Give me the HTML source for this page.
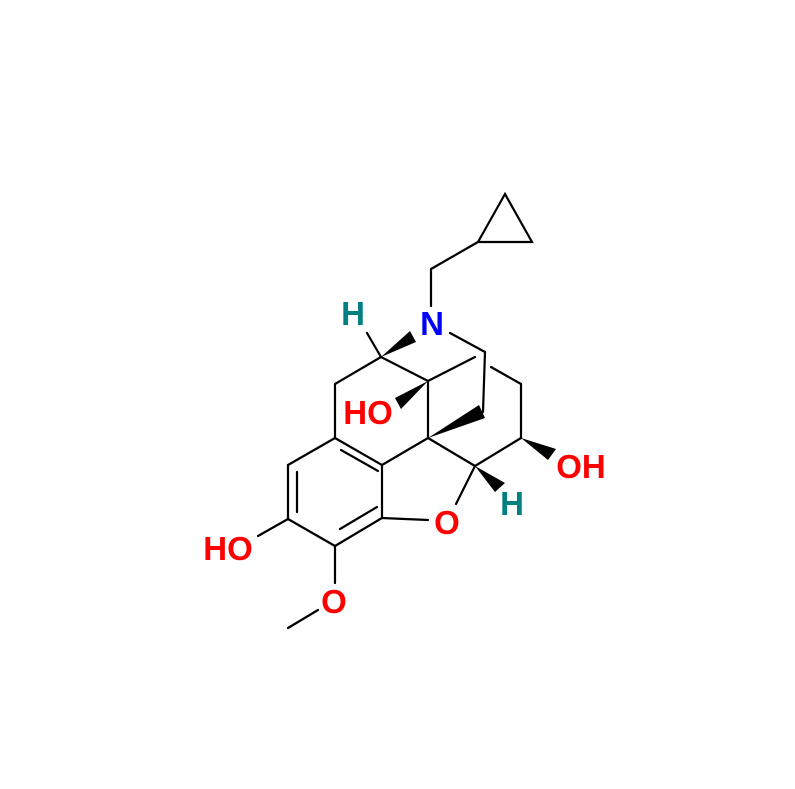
<!DOCTYPE html>
<html><head><style>body{margin:0;background:#fff}svg{display:block}</style></head><body>
<svg width="795" height="789" viewBox="0 0 795 789" xmlns="http://www.w3.org/2000/svg">
<g stroke="#000" stroke-width="2.2" fill="none" stroke-linecap="round">
<path d="M505,194 L478,242 L532,242 Z"/>
<line x1="478" y1="242" x2="431" y2="269"/>
<line x1="431" y1="269" x2="431" y2="306"/>
<line x1="367" y1="333" x2="381" y2="357"/>
<line x1="450" y1="333" x2="485" y2="352"/>
<line x1="485" y1="352" x2="483" y2="412"/>
<line x1="428" y1="381" x2="475" y2="357"/>
<line x1="491" y1="367" x2="521" y2="384"/>
<line x1="521" y1="384" x2="521" y2="438"/>
<line x1="381" y1="357" x2="428" y2="381"/>
<line x1="428" y1="381" x2="428" y2="438"/>
<line x1="381" y1="357" x2="335" y2="384"/>
<line x1="335" y1="384" x2="335" y2="438"/>
<line x1="335" y1="438" x2="382" y2="465"/>
<line x1="341" y1="450" x2="378" y2="471"/>
<line x1="382" y1="465" x2="428" y2="438"/>
<line x1="428" y1="438" x2="475" y2="466"/>
<line x1="475" y1="466" x2="521" y2="438"/>
<line x1="475" y1="466" x2="456" y2="504"/>
<line x1="428" y1="520" x2="382" y2="518"/>
<line x1="382" y1="465" x2="382" y2="518"/>
<line x1="382" y1="518" x2="335" y2="546"/>
<line x1="377" y1="507" x2="340" y2="529"/>
<line x1="335" y1="546" x2="288" y2="519"/>
<line x1="288" y1="519" x2="288" y2="465"/>
<line x1="297" y1="512" x2="297" y2="472"/>
<line x1="288" y1="465" x2="335" y2="438"/>
<line x1="288" y1="519" x2="258" y2="536"/>
<line x1="335" y1="546" x2="335" y2="583"/>
<line x1="318" y1="610" x2="288" y2="628"/>
</g>
<g fill="#000">
<polygon points="381,357 410,331 416,342"/>
<polygon points="428,381 395,398 401,409"/>
<polygon points="428,438 479,405 485,418"/>
<polygon points="521,438 548,460 556,449"/>
<polygon points="475,466 495,492 505,483"/>
</g>
<g font-family="Liberation Sans, sans-serif" font-weight="bold" font-size="33">
<text x="432" y="335" fill="#0000ff" text-anchor="middle">N</text>
<text x="353" y="325" fill="#008080" text-anchor="middle">H</text>
<text x="512" y="515" fill="#008080" text-anchor="middle">H</text>
<text x="368" y="424" fill="#ff0000" text-anchor="middle">HO</text>
<text x="581" y="478" fill="#ff0000" text-anchor="middle">OH</text>
<text x="447" y="534" fill="#ff0000" text-anchor="middle">O</text>
<text x="228" y="560" fill="#ff0000" text-anchor="middle">HO</text>
<text x="334" y="613" fill="#ff0000" text-anchor="middle">O</text>
</g>
</svg>
</body></html>
